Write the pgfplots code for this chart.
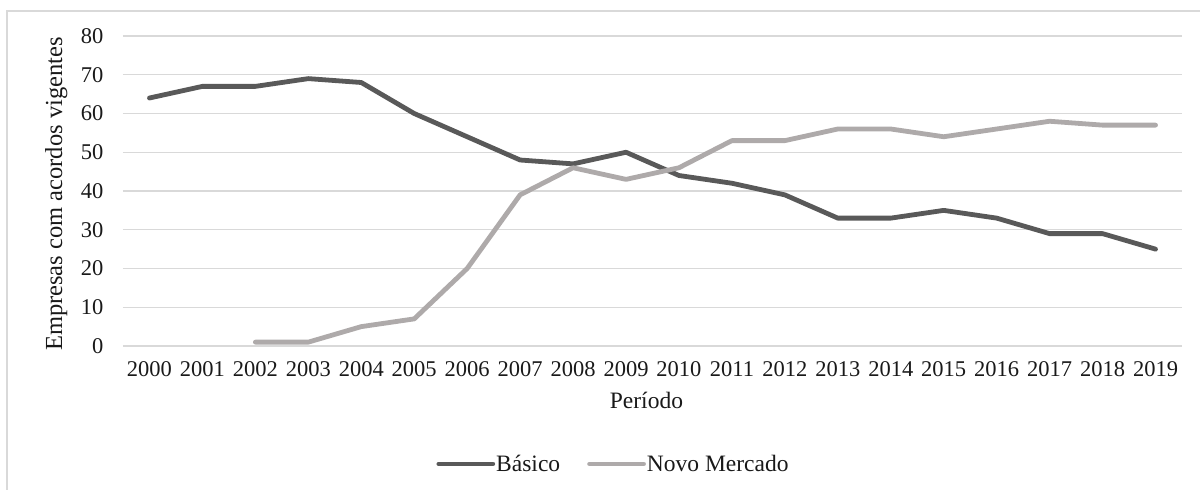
\documentclass[border=0pt]{standalone}
\usepackage{fontspec}
\setmainfont{Liberation Serif}
\usepackage{pgfplots}
\pgfplotsset{compat=1.18}
\definecolor{basico}{HTML}{595959}
\definecolor{novo}{HTML}{AEAAAA}
\definecolor{gridc}{HTML}{D9D9D9}
\begin{document}
\begin{tikzpicture}[x=1pt,y=1pt]
\begin{axis}[
  at={(0,0)}, anchor=south west,
  scale only axis, width=1059pt, height=310pt,
  xmin=-0.5, xmax=19.5, ymin=0, ymax=80,
  xtick={0,...,19},
  xticklabels={2000,2001,2002,2003,2004,2005,2006,2007,2008,2009,2010,2011,2012,2013,2014,2015,2016,2017,2018,2019},
  ytick={0,10,...,80},
  axis line style={draw=none},
  major tick length=0pt,
  ymajorgrids, grid style={gridc, line width=1.4pt},
  /pgf/number format/assume math mode=true,
  ticklabel style={font=\fontsize{22.5}{22.5}\selectfont, text=black!90},
  yticklabel style={xshift=-16pt},
  xticklabel style={yshift=-12pt},
  xlabel={Período},
  ylabel={Empresas com acordos vigentes},
  xlabel style={at={(axis description cs:0.4943,-0.2032)}, anchor=base, font=\fontsize{23.5}{23.5}\selectfont, text=black!90},
  ylabel style={at={(axis description cs:-0.0575,0.49)}, anchor=base, rotate=0, font=\fontsize{24.5}{24.5}\selectfont, text=black!90},
  legend columns=2,
  legend style={at={(axis description cs:0.4627,-0.3806)}, anchor=center, draw=none, fill=none,
    font=\fontsize{23.5}{23.5}\selectfont, text=black!90, inner sep=0pt,
    nodes={inner sep=1pt},
    /tikz/every even column/.append style={column sep=26pt}},
  legend image code/.code={\draw[#1, line cap=round] (0pt,0pt) -- (54pt,0pt);},
  clip=false,
]
\addplot[basico, line width=4.8pt, line join=round, line cap=round] coordinates {
(0,64) (1,67) (2,67) (3,69) (4,68) (5,60) (6,54) (7,48) (8,47) (9,50)
(10,44) (11,42) (12,39) (13,33) (14,33) (15,35) (16,33) (17,29) (18,29) (19,25)};
\addlegendentry{Básico}
\addplot[novo, line width=4.8pt, line join=round, line cap=round] coordinates {
(2,1) (3,1) (4,5) (5,7) (6,20) (7,39) (8,46) (9,43)
(10,46) (11,53) (12,53) (13,56) (14,56) (15,54) (16,56) (17,58) (18,57) (19,57)};
\addlegendentry{Novo Mercado}
\end{axis}
\draw[gridc, line width=1.4pt] (-116,-150) -- (-116,335) -- (1085,335);
\pgfresetboundingbox
\path (-123,-144) rectangle (1077,346);
\end{tikzpicture}
\end{document}
